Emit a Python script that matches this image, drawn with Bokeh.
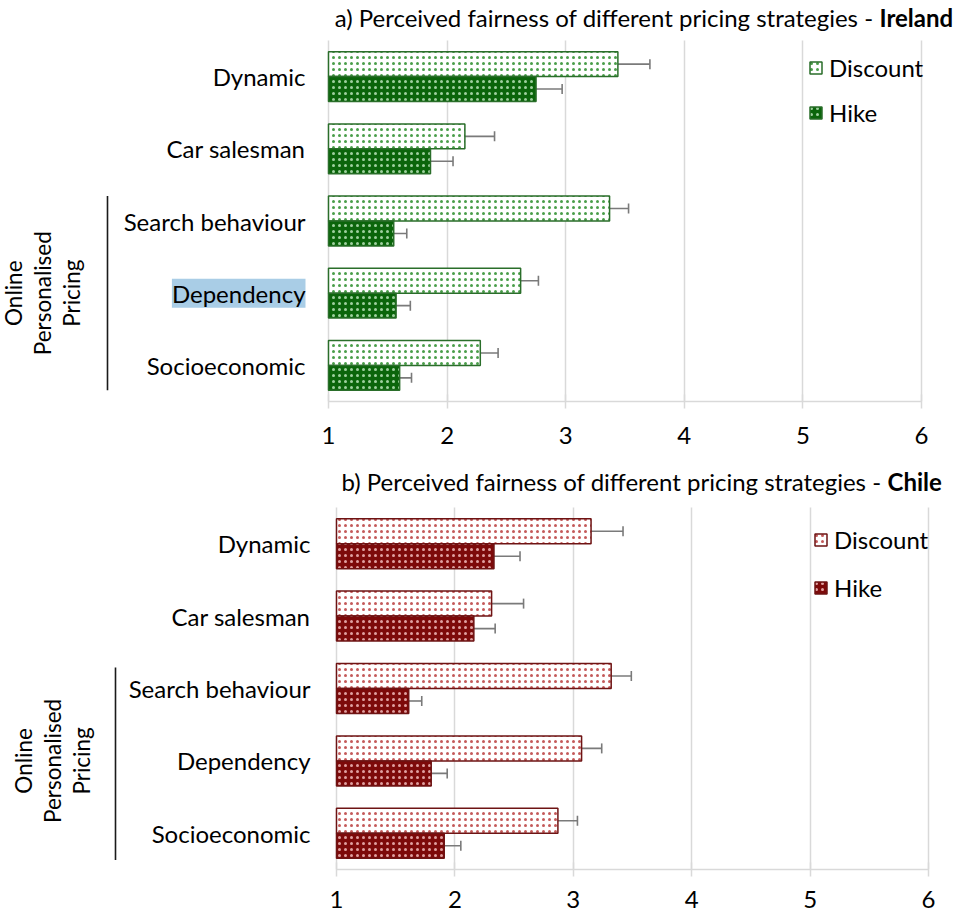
import math

from bokeh.core.properties import value
from bokeh.embed import file_html
from bokeh.layouts import column
from bokeh.models import (ColumnDataSource, FixedTicker, Legend, LegendItem, Range1d,
                          TeeHead, Whisker)
from bokeh.plotting import figure
from bokeh.resources import INLINE

# ---- data -------------------------------------------------------------
categories = ["Dynamic", "Car salesman", "Search behaviour", "Dependency", "Socioeconomic"]
group_members = ["Search behaviour", "Dependency", "Socioeconomic"]
group_lines = ["Online", "Personalised", "Pricing"]
x_ticks = [1, 2, 3, 4, 5, 6]

ireland_discount = [3.44, 2.15, 3.37, 2.62, 2.28]
ireland_discount_err = [0.27, 0.25, 0.16, 0.15, 0.15]
ireland_hike = [2.75, 1.86, 1.55, 1.57, 1.60]
ireland_hike_err = [0.22, 0.19, 0.11, 0.12, 0.10]

chile_discount = [3.15, 2.31, 3.32, 3.07, 2.87]
chile_discount_err = [0.27, 0.27, 0.17, 0.17, 0.165]
chile_hike = [2.33, 2.16, 1.61, 1.80, 1.91]
chile_hike_err = [0.22, 0.18, 0.11, 0.135, 0.14]

# ---- styling ----------------------------------------------------------
W = 963
FONT = "Lato"
GRID = "#d9d9d9"
ERR = "#7a7a7a"
BAR_H = 0.345          # bar thickness, in category slots
OFF = BAR_H / 2        # discount above / hike below the slot centre


def panel(title_plain, title_bold, disc, disc_err, hike, hike_err, pal, geo):
    n = len(categories)
    frame_h = geo["height"] - geo["axis_h"]
    unit = (geo["plot_right"] - geo["plot_left"]) / (x_ticks[-1] - x_ticks[0])
    slot = (frame_h - geo["plot_top"]) / n

    # value axis spans the plot area; room to the left holds the row labels
    x_range = Range1d(x_ticks[0] - geo["plot_left"] / unit,
                      x_ticks[-1] + (W - geo["plot_right"]) / unit)
    y_range = Range1d(0, n + geo["plot_top"] / slot)

    p = figure(width=W, height=geo["height"], x_range=x_range, y_range=y_range,
               y_axis_location=None, output_backend="svg", toolbar_location=None,
               min_border_left=0, min_border_right=0, min_border_top=0,
               min_border_bottom=geo["axis_h"])
    p.extra_x_ranges = {"px": Range1d(0, W)}
    p.extra_y_ranges = {"px": Range1d(frame_h, 0)}
    p.outline_line_color = None
    p.background_fill_color = "white"
    p.border_fill_color = "white"

    pos = [n - i - 0.5 for i in range(n)]
    src = ColumnDataSource(dict(
        cat=categories, pos=pos,
        y_disc=[v + OFF for v in pos], y_hike=[v - OFF for v in pos],
        disc=disc, d_lo=[v - e for v, e in zip(disc, disc_err)],
        d_hi=[v + e for v, e in zip(disc, disc_err)],
        hike=hike, h_lo=[v - e for v, e in zip(hike, hike_err)],
        h_hi=[v + e for v, e in zip(hike, hike_err)],
    ))

    r_d = p.hbar(y="y_disc", left=x_ticks[0], right="disc", height=BAR_H, source=src,
                 fill_color="white", line_color=pal["edge"], line_width=1.5,
                 hatch_pattern="dot", hatch_color=pal["dot_light"],
                 hatch_scale=6, hatch_weight=1.6)
    r_h = p.hbar(y="y_hike", left=x_ticks[0], right="hike", height=BAR_H, source=src,
                 fill_color=pal["fill"], line_color=pal["edge"], line_width=1.5,
                 hatch_pattern="dot", hatch_color=pal["dot_dark"],
                 hatch_scale=6, hatch_weight=1.6)

    for base, lo, hi in (("y_disc", "d_lo", "d_hi"), ("y_hike", "h_lo", "h_hi")):
        p.add_layout(Whisker(source=src, base=base, lower=lo, upper=hi, dimension="width",
                             line_color=ERR, line_width=1.6,
                             lower_head=TeeHead(size=10, line_color=ERR, line_width=1.6),
                             upper_head=TeeHead(size=10, line_color=ERR, line_width=1.6)))

    # value axis and vertical grid
    p.xaxis.ticker = FixedTicker(ticks=x_ticks)
    p.xaxis.bounds = (x_ticks[0], x_ticks[-1])
    p.xaxis.axis_line_color = GRID
    p.xaxis.axis_line_width = 1.5
    p.xaxis.major_tick_line_color = GRID
    p.xaxis.major_tick_line_width = 1.5
    p.xaxis.major_tick_in = 7
    p.xaxis.major_tick_out = 7
    p.xaxis.minor_tick_line_color = None
    p.xaxis.major_label_standoff = geo["x_standoff"]
    p.xaxis.major_label_text_font = FONT
    p.xaxis.major_label_text_font_size = "24px"
    p.xaxis.major_label_text_color = "#000000"

    p.xgrid.ticker = FixedTicker(ticks=x_ticks)
    p.xgrid.cross_bounds = (0, n)
    p.xgrid.grid_line_color = GRID
    p.xgrid.grid_line_width = 1.5
    p.ygrid.grid_line_color = None

    # category labels left of the value axis
    plain = [c for c in categories if c != geo.get("highlight")]
    lab = ColumnDataSource(dict(cat=plain, pos=[pos[categories.index(c)] for c in plain]))
    p.text(x=x_ticks[0], y="pos", text="cat", source=lab, x_offset=-geo["label_gap"],
           text_align="right", text_baseline="middle", text_font=value(FONT),
           text_font_size="24px", text_color="#000000")
    if geo.get("highlight"):
        c = geo["highlight"]
        p.text(x=[x_ticks[0]], y=[pos[categories.index(c)]], text=[c],
               x_offset=-geo["label_gap"], text_align="right", text_baseline="middle",
               text_font=value(FONT), text_font_size="24px", text_color="#000000",
               text_line_height=0.85, background_fill_color="#a9cde6", padding=0)

    # bracket and rotated group label for the personalised-pricing rows
    top_y = pos[categories.index(group_members[0])] + geo["bracket_top"]
    bot_y = pos[categories.index(group_members[-1])] - geo["bracket_bot"]
    p.segment(x0=[geo["bracket_x"]], x1=[geo["bracket_x"]], y0=[top_y], y1=[bot_y],
              x_range_name="px", line_color="#1a1a1a", line_width=1.6)
    mid = pos[categories.index(group_members[1])]
    p.text(x=[geo["group_x"] + i * geo["group_step"] for i in range(len(group_lines))],
           y=[mid] * len(group_lines), text=group_lines, x_range_name="px",
           angle=math.pi / 2, text_align="center", text_baseline="middle",
           text_font=value(FONT), text_font_size="22.5px", text_color="#000000")

    # title: plain part followed by the bold country name
    p.text(x=[geo["title_split"]], y=[geo["title_y"]], text=[title_plain],
           x_range_name="px", y_range_name="px", text_align="right",
           text_baseline="middle", text_font=value(FONT), text_font_size="24px",
           text_color="#000000")
    p.text(x=[geo["title_split"] + geo["title_gap"]], y=[geo["title_y"]], text=[title_bold],
           x_range_name="px", y_range_name="px", text_align="left",
           text_baseline="middle", text_font=value(FONT), text_font_size="24px",
           text_font_style="bold", text_color="#000000")

    legend = Legend(items=[LegendItem(label="Discount", renderers=[r_d]),
                           LegendItem(label="Hike", renderers=[r_h])],
                    location=geo["legend"], orientation="vertical",
                    background_fill_alpha=0, border_line_alpha=0,
                    padding=0, margin=0, glyph_width=15, glyph_height=15,
                    label_standoff=6, spacing=geo["legend_spacing"],
                    label_text_font=FONT, label_text_font_size="24px",
                    label_text_color="#000000")
    p.add_layout(legend)
    return p


green = dict(edge="#2a6e2a", fill="#0b650b", dot_light="#4a9e4a", dot_dark="#9fd09f")
red = dict(edge="#6e1414", fill="#7d0a0a", dot_light="#c45a5a", dot_dark="#e0a0a0")

top = panel("a) Perceived fairness of different pricing strategies -", "Ireland",
            ireland_discount, ireland_discount_err, ireland_hike, ireland_hike_err, green,
            dict(height=462, axis_h=61, plot_top=40, plot_left=328, plot_right=921,
                 x_standoff=18, label_gap=23, legend=(808, 274), legend_spacing=16,
                 title_split=873, title_gap=6, title_y=17,
                 bracket_x=107, bracket_top=0.345, bracket_bot=0.345,
                 group_x=13, group_step=29, highlight="Dependency"))

bottom = panel("b) Perceived fairness of different pricing strategies -", "Chile",
               chile_discount, chile_discount_err, chile_hike, chile_hike_err, red,
               dict(height=457, axis_h=50, plot_top=45, plot_left=336, plot_right=928,
                    x_standoff=14, label_gap=26, legend=(813, 267), legend_spacing=19,
                    title_split=881, title_gap=6, title_y=19,
                    bracket_x=115, bracket_top=0.29, bracket_bot=0.37,
                    group_x=23, group_step=29))

layout = column(top, bottom)
open("out.html", "w").write(file_html(layout, INLINE))
